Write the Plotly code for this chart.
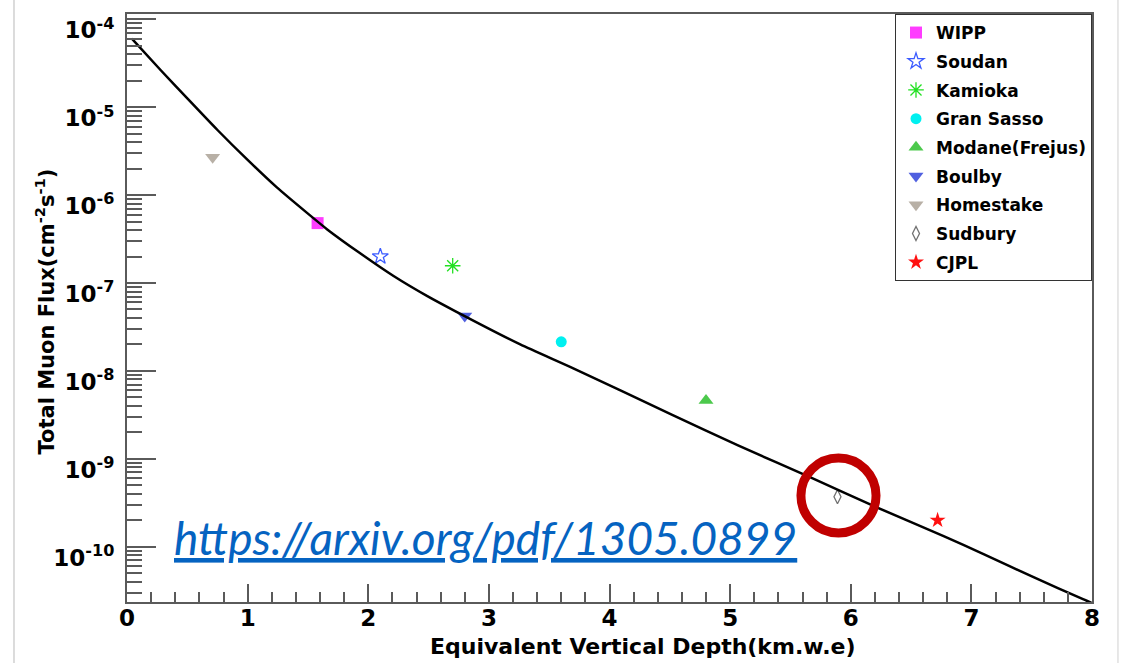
import plotly.graph_objects as go

# ---- measured muon flux at underground laboratories ----
labs = ["WIPP", "Soudan", "Kamioka", "Gran Sasso", "Modane(Frejus)",
        "Boulby", "Homestake", "Sudbury", "CJPL"]
lab_depth = [1.58, 2.10, 2.70, 3.60, 4.80, 2.80, 0.71, 5.89, 6.72]          # km.w.e
lab_flux = [4.8e-7, 2.0e-7, 1.57e-7, 2.14e-8, 4.6e-9, 4.2e-8, 2.7e-6, 3.7e-10, 2.0e-10]  # cm^-2 s^-1

# ---- global fit of total muon flux vs. depth ----
fit_depth = [0.04, 0.28, 0.50, 0.75, 1.00, 1.24, 1.49, 1.66, 1.93, 2.21, 2.49,
             2.72, 3.26, 3.70, 4.52, 5.07, 5.68, 6.23, 6.77, 7.11, 7.52, 7.93, 8.00]
fit_flux = [6.03e-5, 2.63e-5, 1.26e-5, 5.50e-6, 2.51e-6, 1.23e-6, 6.31e-7, 4.07e-7,
            2.19e-7, 1.20e-7, 7.08e-8, 4.79e-8, 2.00e-8, 1.07e-8, 3.16e-9, 1.41e-9,
            6.03e-10, 2.75e-10, 1.32e-10, 8.13e-11, 4.47e-11, 2.51e-11, 2.29e-11]

x_ticks = [0, 1, 2, 3, 4, 5, 6, 7, 8]
y_ticks = [1e-10, 1e-9, 1e-8, 1e-7, 1e-6, 1e-5, 1e-4]
y_ticktext = ["10<sup>-10</sup>", "10<sup>-9</sup>", "10<sup>-8</sup>", "10<sup>-7</sup>",
              "10<sup>-6</sup>", "10<sup>-5</sup>", "10<sup>-4</sup>"]

# marker style per laboratory
styles = {
    "WIPP":           dict(symbol="square", color="#ff3cff", size=12),
    "Soudan":         dict(symbol="star-open", color="#3b5bff", size=12),
    "Kamioka":        dict(symbol="asterisk-open", color="#22e022", size=13),
    "Gran Sasso":     dict(symbol="circle", color="#00f0f0", size=11),
    "Modane(Frejus)": dict(symbol="triangle-up", color="#4cc94c", size=13),
    "Boulby":         dict(symbol="triangle-down", color="#5060e0", size=13),
    "Homestake":      dict(symbol="triangle-down", color="#b8b0a6", size=13),
    "Sudbury":        dict(symbol="diamond-tall-open", color="#707070", size=10),
    "CJPL":           dict(symbol="star", color="#ff1010", size=12),
}

FONT = "DejaVu Sans"
AXIS = "#5a5a5a"

fig = go.Figure()

for i, name in enumerate(labs):
    st = styles[name]
    open_sym = st["symbol"].endswith("-open")
    fig.add_trace(go.Scatter(
        x=[lab_depth[i]], y=[lab_flux[i]], mode="markers", name=name,
        legendgroup=name,
        marker=dict(symbol=st["symbol"], size=st["size"], color=st["color"],
                    line=dict(color=st["color"], width=1.3 if open_sym else 0)),
    ))

fig.add_trace(go.Scatter(
    x=fit_depth, y=fit_flux, mode="lines",
    line=dict(color="black", width=2.5, shape="spline", smoothing=0.6),
    showlegend=False, hoverinfo="skip",
))

minor_vals = [k * 10.0 ** e for e in range(-11, -3) for k in range(2, 10)]

fig.update_xaxes(
    range=[0, 8], tickvals=x_ticks, ticktext=[str(v) for v in x_ticks],
    ticks="inside", ticklen=18, tickwidth=2, tickcolor=AXIS,
    minor=dict(ticks="inside", ticklen=10, tickwidth=1.6, tickcolor=AXIS, dtick=0.2),
    showline=True, linecolor=AXIS, linewidth=2, mirror=True,
    showgrid=False, zeroline=False,
    tickfont=dict(family=FONT, size=23, color="black", weight="bold"),
    ticklabelstandoff=-6,
)
fig.update_yaxes(
    type="log", range=[-10.629, -3.94],
    tickvals=y_ticks, ticktext=y_ticktext,
    ticks="inside", ticklen=29, tickwidth=2, tickcolor=AXIS,
    minor=dict(ticks="inside", ticklen=15, tickwidth=1.6, tickcolor=AXIS, tickvals=minor_vals),
    showline=True, linecolor=AXIS, linewidth=2, mirror=True,
    showgrid=False, zeroline=False,
    tickfont=dict(family=FONT, size=23, color="black", weight="bold"),
    ticklabelstandoff=6, ticklabelshift=11,
)

annotations = [
    dict(text="Equivalent Vertical Depth(km.w.e)", xref="paper", yref="paper",
         x=0.5352, y=0, xanchor="center", yanchor="top", yshift=-30, showarrow=False,
         font=dict(family=FONT, size=22, color="black", weight="bold")),
    dict(text="Total Muon Flux(cm<sup>-2</sup>s<sup>-1</sup>)", xref="paper", yref="paper",
         x=0, y=0.494, xanchor="center", yanchor="middle", xshift=-82, textangle=-90,
         showarrow=False,
         font=dict(family=FONT, size=21, color="black", weight="bold")),
    dict(text="<i><u>https://arxiv.org/pdf/1305.0899</u></i>", xref="paper", yref="paper",
         x=0.0466, y=0.1105, xanchor="left", yanchor="middle", showarrow=False,
         font=dict(family="Lato", size=46, color="#0563c1")),
]

shapes = [
    # highlight ring around the Sudbury point
    dict(type="circle", xref="paper", yref="paper",
         x0=0.6984, x1=0.7762, y0=0.1173, y1=0.2449,
         line=dict(color="#c00000", width=9)),
    # slide frame edges
    dict(type="line", xref="paper", yref="paper", x0=-0.1171, x1=-0.1171,
         y0=-0.1037, y1=1.0238, line=dict(color="#c4c4c4", width=1.2)),
    dict(type="line", xref="paper", yref="paper", x0=1.0269, x1=1.0269,
         y0=-0.1037, y1=1.0238, line=dict(color="#d8d8d8", width=1.2)),
]

fig.update_layout(
    width=1127, height=663,
    margin=dict(l=127, r=35, t=14, b=61),
    paper_bgcolor="white", plot_bgcolor="white",
    annotations=annotations, shapes=shapes,
    legend=dict(
        x=1, y=1, xanchor="right", yanchor="top",
        bgcolor="white", bordercolor="#333333", borderwidth=1,
        font=dict(family=FONT, size=17, color="black", weight="bold"),
        traceorder="grouped", tracegroupgap=3.6,
    ),
)

fig.write_html("out.html")
